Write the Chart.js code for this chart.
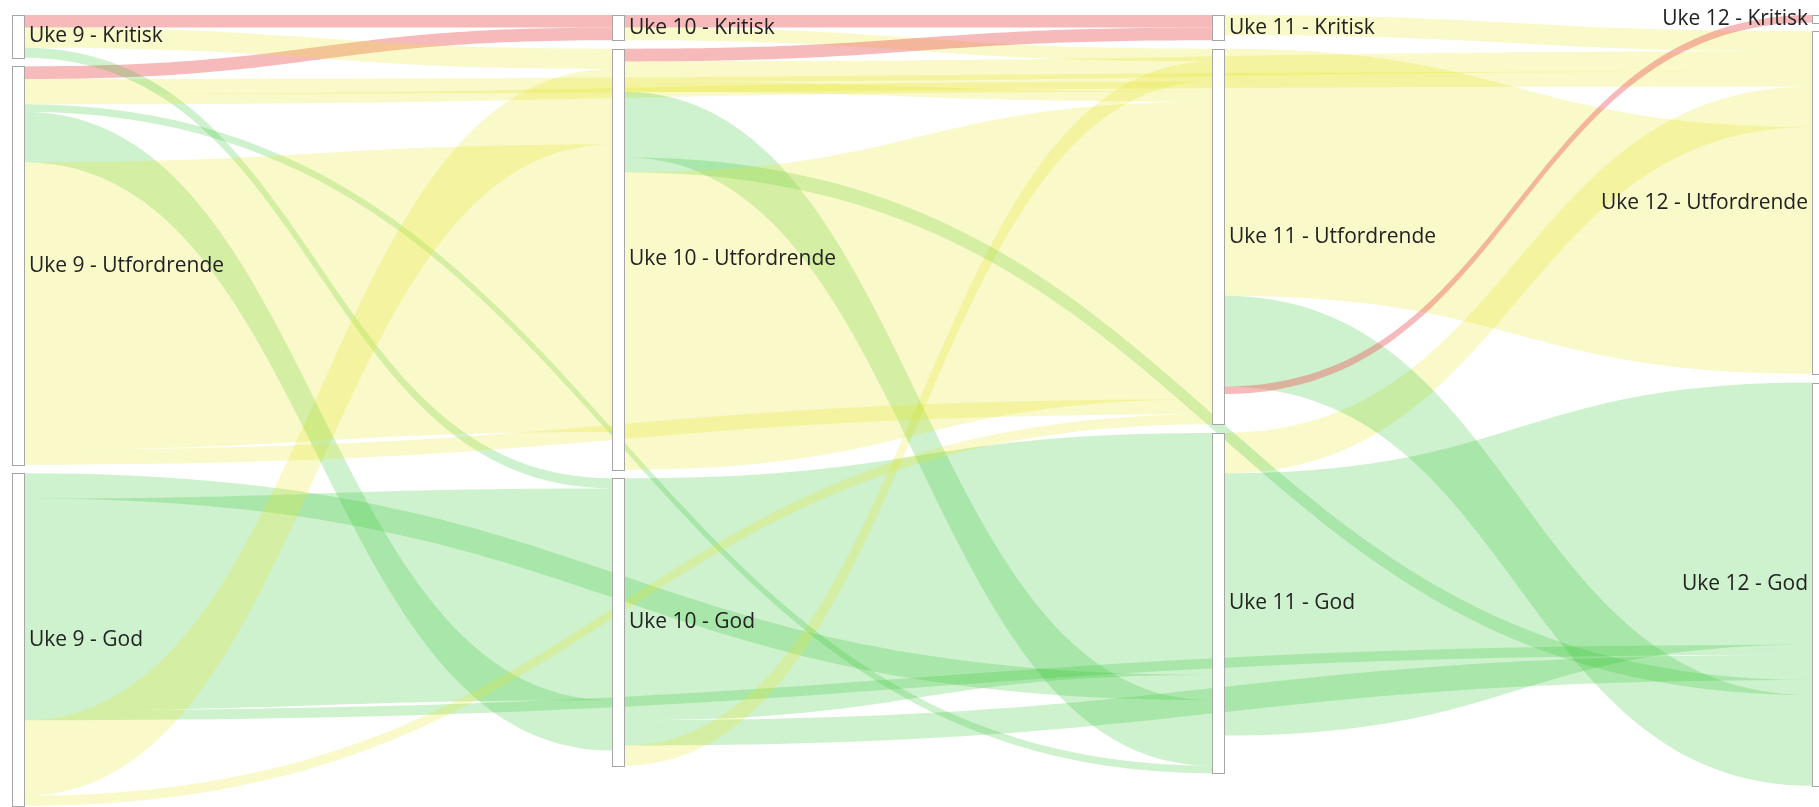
<!DOCTYPE html>
<html lang="no">
<head>
<meta charset="utf-8">
<title>Uke 9 - Uke 12</title>
<script src="https://cdn.jsdelivr.net/npm/chart.js@4.4.1/dist/chart.umd.min.js"></script>
<style>
  html, body { margin: 0; padding: 0; background: #ffffff; overflow: hidden; }
  canvas { display: block; }
</style>
</head>
<body>
<canvas id="sankey" width="1819" height="807"></canvas>
<script>
"use strict";

const weeks = ["Uke 9", "Uke 10", "Uke 11", "Uke 12"];
const statuses = ["Kritisk", "Utfordrende", "God"];

// One entry per flow. The order is the data order: it decides the stacking
// of the flows inside each node, both where they leave and where they arrive.
const linkSource = [
  "Uke 9 - Kritisk", "Uke 9 - Utfordrende", "Uke 10 - Kritisk", "Uke 10 - Kritisk",
  "Uke 10 - Utfordrende", "Uke 11 - Kritisk", "Uke 10 - Utfordrende", "Uke 9 - Utfordrende",
  "Uke 11 - God", "Uke 11 - God", "Uke 9 - Kritisk", "Uke 9 - Kritisk",
  "Uke 10 - God", "Uke 9 - God", "Uke 9 - God", "Uke 9 - God",
  "Uke 10 - God", "Uke 10 - God", "Uke 9 - Utfordrende", "Uke 10 - Utfordrende",
  "Uke 10 - Utfordrende", "Uke 9 - Utfordrende", "Uke 10 - Utfordrende", "Uke 9 - God",
  "Uke 9 - Utfordrende", "Uke 9 - Utfordrende", "Uke 10 - Utfordrende", "Uke 9 - Utfordrende",
  "Uke 9 - God", "Uke 11 - Utfordrende", "Uke 11 - Utfordrende", "Uke 11 - Utfordrende",
];
const linkTarget = [
  "Uke 10 - Kritisk", "Uke 10 - Kritisk", "Uke 11 - Kritisk", "Uke 11 - Utfordrende",
  "Uke 11 - Kritisk", "Uke 12 - Utfordrende", "Uke 12 - Utfordrende", "Uke 12 - Utfordrende",
  "Uke 12 - Utfordrende", "Uke 12 - God", "Uke 10 - Utfordrende", "Uke 10 - God",
  "Uke 11 - God", "Uke 11 - God", "Uke 10 - God", "Uke 12 - God",
  "Uke 12 - God", "Uke 11 - Utfordrende", "Uke 11 - Utfordrende", "Uke 11 - Utfordrende",
  "Uke 11 - God", "Uke 11 - God", "Uke 12 - God", "Uke 10 - Utfordrende",
  "Uke 10 - God", "Uke 10 - Utfordrende", "Uke 11 - Utfordrende", "Uke 11 - Utfordrende",
  "Uke 11 - Utfordrende", "Uke 12 - Utfordrende", "Uke 12 - God", "Uke 12 - Kritisk",
];
const linkValue = [
  2.5, 2.5, 2.5, 2.5,
  2.5, 4, 4, 3,
  8, 52, 4, 2,
  48, 5, 42, 2,
  5, 4, 2, 2,
  13, 1.5, 3, 15,
  10, 57, 59, 3,
  2, 49, 18, 1.5,
];

const NODE_GAP = 1.7;
const NODE_WIDTH = 12;

const flowColors = {
  Kritisk: "rgba(235, 90, 90, 0.42)",
  Utfordrende: "rgba(232, 232, 40, 0.25)",
  God: "rgba(60, 200, 60, 0.25)",
};

const layout = buildLayout();

const sankeyPlugin = {
  id: "sankeyFlows",
  afterDatasetsDraw(chart) {
    const ctx = chart.ctx;
    const xScale = chart.scales.x;
    const yScale = chart.scales.y;
    const py = (value) => yScale.getPixelForValue(value);

    ctx.save();
    for (const link of layout.links) {
      const x0 = xScale.getPixelForValue(link.source.col) + NODE_WIDTH;
      const x1 = xScale.getPixelForValue(link.target.col);
      const xm = (x0 + x1) / 2;
      const a0 = py(link.sy0);
      const a1 = py(link.sy1);
      const b0 = py(link.ty0);
      const b1 = py(link.ty1);
      ctx.beginPath();
      ctx.moveTo(x0, a0);
      ctx.bezierCurveTo(xm, a0, xm, b0, x1, b0);
      ctx.lineTo(x1, b1);
      ctx.bezierCurveTo(xm, b1, xm, a1, x0, a1);
      ctx.closePath();
      ctx.fillStyle = flowColors[link.target.status];
      ctx.fill();
    }

    for (const node of layout.nodes) {
      const x = Math.round(xScale.getPixelForValue(node.col)) + 0.5;
      const top = Math.round(py(node.y0)) + 0.5;
      const bottom = Math.round(py(node.y1)) + 0.5;
      ctx.fillStyle = "#ffffff";
      ctx.fillRect(x, top, NODE_WIDTH, bottom - top);
      ctx.strokeStyle = "#a6a6a6";
      ctx.lineWidth = 1;
      ctx.strokeRect(x, top, NODE_WIDTH, bottom - top);
    }

    ctx.font = '21px "Open Sans", sans-serif';
    ctx.fillStyle = "#222222";
    ctx.textBaseline = "middle";
    const lastCol = weeks.length - 1;
    for (const node of layout.nodes) {
      const x = xScale.getPixelForValue(node.col);
      const mid = py((node.y0 + node.y1) / 2);
      if (node.col === lastCol) {
        ctx.textAlign = "right";
        ctx.fillText(node.name, x - 4, mid);
      } else {
        ctx.textAlign = "left";
        ctx.fillText(node.name, x + NODE_WIDTH + 5, mid);
      }
    }
    ctx.restore();
  },
};

new Chart(document.getElementById("sankey").getContext("2d"), {
  type: "scatter",
  data: {
    datasets: [{
      data: layout.nodes.map((node) => ({ x: node.col, y: (node.y0 + node.y1) / 2 })),
      pointRadius: 0,
      pointHoverRadius: 0,
    }],
  },
  options: {
    responsive: false,
    animation: false,
    events: [],
    layout: {
      padding: { left: 12, right: 7, top: 15, bottom: 1 },
    },
    plugins: {
      legend: { display: false },
      tooltip: { enabled: false },
    },
    scales: {
      x: { type: "linear", min: 0, max: weeks.length - 1, display: false },
      y: { type: "linear", min: 0, max: layout.maxTotal, reverse: true, display: false },
    },
  },
  plugins: [sankeyPlugin],
});

function buildLayout() {
  const nodes = new Map();
  weeks.forEach((week, col) => {
    statuses.forEach((status) => {
      const name = `${week} - ${status}`;
      nodes.set(name, { name, col, status, inTotal: 0, outTotal: 0 });
    });
  });

  const links = linkSource.map((source, index) => ({
    source: nodes.get(source),
    target: nodes.get(linkTarget[index]),
    value: linkValue[index],
  }));

  for (const link of links) {
    link.source.outTotal += link.value;
    link.target.inTotal += link.value;
  }

  let maxTotal = 0;
  weeks.forEach((week) => {
    let y = 0;
    for (const status of statuses) {
      const node = nodes.get(`${week} - ${status}`);
      node.y0 = y;
      node.y1 = y + Math.max(node.inTotal, node.outTotal);
      node.outOffset = node.y0;
      node.inOffset = node.y0;
      y = node.y1 + NODE_GAP;
    }
    maxTotal = Math.max(maxTotal, y - NODE_GAP);
  });

  for (const link of links) {
    link.sy0 = link.source.outOffset;
    link.source.outOffset += link.value;
    link.sy1 = link.source.outOffset;
    link.ty0 = link.target.inOffset;
    link.target.inOffset += link.value;
    link.ty1 = link.target.inOffset;
  }

  return { nodes: Array.from(nodes.values()), links, maxTotal };
}
</script>
</body>
</html>
